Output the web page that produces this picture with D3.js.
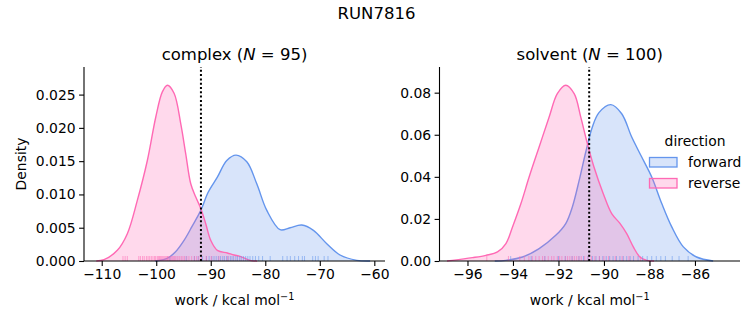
<!DOCTYPE html>
<html><head><meta charset="utf-8">
<script src="https://cdn.jsdelivr.net/npm/d3@7"></script>
<style>
body{margin:0;background:#fff;}
text{font-family:"DejaVu Sans",sans-serif;fill:#000;}
</style></head>
<body><svg id="c" width="753" height="325"></svg>
<script>
// ---- data ----
const complexForwardX = [-100.2, -98.0, -96.55, -94.9, -93.43, -91.83, -90.5, -88.79, -87.06, -85.36, -83.39, -81.56, -79.72, -77.28, -75.45, -73.3, -71.17, -68.72, -66.28, -63.21, -60.77];
const complexForwardY = [0, 0.0004, 0.0013, 0.0031, 0.0052, 0.0076, 0.0103, 0.0126, 0.0151, 0.0159, 0.0149, 0.0116, 0.0076, 0.0047, 0.0050, 0.0054, 0.0046, 0.0026, 0.0009, 0.0001, 0];
const complexReverseX = [-111.0, -109.58, -107.14, -105.3, -103.47, -101.63, -100.09, -98.88, -97.96, -96.73, -95.5, -94.59, -93.67, -92.75, -91.83, -90.92, -90.0, -88.79, -86.95, -85.72, -84.62, -82.79, -81.5];
const complexReverseY = [0, 0.0002, 0.0016, 0.0041, 0.0091, 0.0151, 0.0216, 0.0254, 0.0264, 0.0252, 0.0206, 0.0161, 0.0116, 0.0096, 0.0079, 0.0056, 0.0031, 0.0016, 0.0012, 0.0009, 0.0007, 0.0001, 0];
const solventForwardX = [-94.8, -94.31, -93.58, -92.85, -92.12, -91.68, -91.39, -91.09, -90.8, -90.51, -90.22, -89.7, -89.22, -88.78, -88.34, -87.9, -87.46, -87.02, -86.51, -85.93, -85.2];
const solventForwardY = [0, 0.0003, 0.0019, 0.0059, 0.0122, 0.0178, 0.0257, 0.0383, 0.0518, 0.0637, 0.0705, 0.0743, 0.0700, 0.0589, 0.0494, 0.0399, 0.0273, 0.0162, 0.0067, 0.0019, 0];
const solventReverseX = [-96.9, -96.66, -95.78, -95.19, -94.68, -94.31, -94.02, -93.65, -93.29, -92.85, -92.41, -92.05, -91.68, -91.31, -91.02, -90.73, -90.44, -90.03, -89.66, -89.29, -89.0, -88.71, -88.42, -88.12, -87.8];
const solventReverseY = [0, 0.0003, 0.0016, 0.0027, 0.0043, 0.0083, 0.0162, 0.0273, 0.0399, 0.0542, 0.0684, 0.0795, 0.0835, 0.0795, 0.0684, 0.0558, 0.0447, 0.0320, 0.0225, 0.0178, 0.0130, 0.0067, 0.0019, 0.0003, 0];

const complexForwardRug = [-97.5, -94.5, -93.0, -92.3, -91.5, -90.8, -90.3, -89.8, -89.4, -89.0, -88.6, -88.2, -87.8, -87.5, -87.1, -86.8, -86.4, -86.1, -85.8, -85.4, -85.1, -84.7, -84.4, -84.0, -83.6, -83.2, -82.8, -82.3, -81.8, -81.2, -80.5, -79.1, -76.8, -76.0, -75.4, -74.6, -73.9, -73.2, -72.8, -71.3, -70.8, -70.3, -69.2, -68.5];
const complexReverseRug = [-106.1, -105.7, -105.3, -103.2, -102.9, -102.5, -102.2, -101.8, -101.5, -101.2, -100.9, -100.6, -100.3, -100.1, -99.8, -99.6, -99.4, -99.2, -99.0, -98.8, -98.6, -98.4, -98.2, -98.0, -97.9, -97.7, -97.5, -97.3, -97.1, -96.9, -96.7, -96.5, -96.2, -96.0, -95.7, -95.4, -95.1, -94.8, -94.4, -94.0, -93.5, -93.0, -92.6, -92.2, -91.7, -90.8, -89.9, -88.5, -86.9];
const solventForwardRug = [-94.1, -93.2, -92.6, -92.0, -91.7, -91.4, -91.1, -90.9, -90.7, -90.5, -90.35, -90.2, -90.05, -89.9, -89.75, -89.6, -89.45, -89.3, -89.15, -89.0, -88.85, -88.7, -88.5, -88.3, -88.1, -87.9, -87.7, -87.5, -87.3, -87.0, -86.7, -86.3];
const solventReverseRug = [-95.15, -94.2, -93.7, -93.5, -93.3, -93.15, -93.0, -92.85, -92.7, -92.6, -92.45, -92.3, -92.2, -92.05, -91.95, -91.85, -91.7, -91.6, -91.5, -91.4, -91.3, -91.2, -91.1, -91.0, -90.85, -90.7, -90.55, -90.4, -90.2, -90.0, -89.8, -89.5, -89.2, -88.9, -88.4];

const complexXTicks = [-110, -100, -90, -80, -70, -60];
const complexYTicks = [0, 0.005, 0.010, 0.015, 0.020, 0.025];
const solventXTicks = [-96, -94, -92, -90, -88, -86];
const solventYTicks = [0, 0.02, 0.04, 0.06, 0.08];
const complexMarker = -91.8;
const solventMarker = -90.65;
const directions = ["forward", "reverse"];
const colors = ["#6495ED", "#FF69B4"];

// ---- drawing ----
const svg = d3.select("#c");
const fmtMinus = s => s.replace("-", "\u2212");

svg.append("text").attr("x", 376.5).attr("y", 19).attr("text-anchor", "middle")
  .style("font-size", "16.5px").text("RUN7816");

function panel(cfg) {
  const x = d3.scaleLinear().domain(cfg.xdom).range([cfg.left, cfg.right]);
  const y = d3.scaleLinear().domain(cfg.ydom).range([261, 67]);
  const g = svg.append("g");
  const series = [
    {xs: cfg.fx, ys: cfg.fy, rug: cfg.frug, c: colors[0]},
    {xs: cfg.rx, ys: cfg.ry, rug: cfg.rrug, c: colors[1]}
  ];
  const area = d3.area().x(d => x(d[0])).y0(y(0)).y1(d => y(Math.max(0, d[1]))).curve(d3.curveCatmullRom.alpha(0.5));
  const line = d3.line().x(d => x(d[0])).y(d => y(Math.max(0, d[1]))).curve(d3.curveCatmullRom.alpha(0.5));
  series.forEach(s => {
    const pts = s.xs.map((v, i) => [v, s.ys[i]]);
    g.append("path").datum(pts).attr("d", area).attr("fill", s.c).attr("fill-opacity", 0.25);
    g.append("path").datum(pts).attr("d", line).attr("fill", "none").attr("stroke", s.c).attr("stroke-width", 1.4);
  });
  series.forEach(s => {
    g.selectAll(null).data(s.rug).enter().append("line")
      .attr("x1", d => x(d)).attr("x2", d => x(d)).attr("y1", 261).attr("y2", 256)
      .attr("stroke", s.c).attr("stroke-width", 1).attr("stroke-opacity", 0.55);
  });
  // marker
  g.append("line").attr("x1", x(cfg.marker)).attr("x2", x(cfg.marker)).attr("y1", 261).attr("y2", 67)
    .attr("stroke", "#000").attr("stroke-width", 2).attr("stroke-dasharray", "2,2.3");
  // axes
  const xa = d3.axisBottom(x).tickValues(cfg.xticks).tickSize(4.9).tickPadding(3.5).tickFormat(d => fmtMinus(String(d)));
  const ya = d3.axisLeft(y).tickValues(cfg.yticks).tickSize(4.9).tickPadding(3.5).tickFormat(d3.format(cfg.yfmt));
  const gx = g.append("g").attr("transform", "translate(0,261)").call(xa);
  const gy = g.append("g").attr("transform", `translate(${cfg.left},0)`).call(ya);
  [gx, gy].forEach(a => {
    a.select(".domain").attr("stroke-width", 1.1);
    a.selectAll(".tick line").attr("stroke-width", 1.1);
    a.selectAll("text").style("font-size", "13.9px").style("font-family", "DejaVu Sans").attr("fill", "#000");
  });
  gx.select(".domain").attr("d", `M${cfg.left},0H${cfg.right}`);
  gy.select(".domain").attr("d", `M0,261V67`);
  // titles
  const cx = (cfg.left + cfg.right) / 2;
  const t = g.append("text").attr("x", cx).attr("y", 60).attr("text-anchor", "middle").style("font-size", "16.5px");
  t.append("tspan").text(cfg.name + " (");
  t.append("tspan").style("font-style", "italic").text("N");
  t.append("tspan").text(" = " + cfg.n + ")");
  const xl = g.append("text").attr("x", cx).attr("y", 305).attr("text-anchor", "middle").style("font-size", "13.9px");
  xl.append("tspan").text("work / kcal mol");
  xl.append("tspan").attr("dy", -5).style("font-size", "9.7px").text("\u22121");
  return g;
}

panel({left: 84, right: 385, xdom: [-113.25, -58.04], ydom: [0, 0.0291 * (261 - 67) / (260.7 - 67)],
  fx: complexForwardX, fy: complexForwardY, rx: complexReverseX, ry: complexReverseY,
  frug: complexForwardRug, rrug: complexReverseRug, marker: complexMarker,
  xticks: complexXTicks, yticks: complexYTicks, yfmt: ".3f", name: "complex", n: 95});
panel({left: 439.5, right: 740, xdom: [-97.23, -84.02], ydom: [0, 0.0922],
  fx: solventForwardX, fy: solventForwardY, rx: solventReverseX, ry: solventReverseY,
  frug: solventForwardRug, rrug: solventReverseRug, marker: solventMarker,
  xticks: solventXTicks, yticks: solventYTicks, yfmt: ".2f", name: "solvent", n: 100});

svg.append("text").attr("transform", "translate(26,164) rotate(-90)").attr("text-anchor", "middle")
  .style("font-size", "13.9px").text("Density");

// legend
const lg = svg.append("g");
lg.append("text").attr("x", 695).attr("y", 146).attr("text-anchor", "middle").style("font-size", "13.9px").text("direction");
directions.forEach((d, i) => {
  const yy = 157 + i * 21;
  lg.append("rect").attr("x", 649.5).attr("y", yy + 0.5).attr("width", 27.5).attr("height", 9.5)
    .attr("fill", d3.color(colors[i]).copy({opacity: 0.25})).attr("stroke", colors[i]).attr("stroke-width", 1.3);
  lg.append("text").attr("x", 688).attr("y", yy + 10).style("font-size", "13.9px").text(d);
});
</script></body></html>
